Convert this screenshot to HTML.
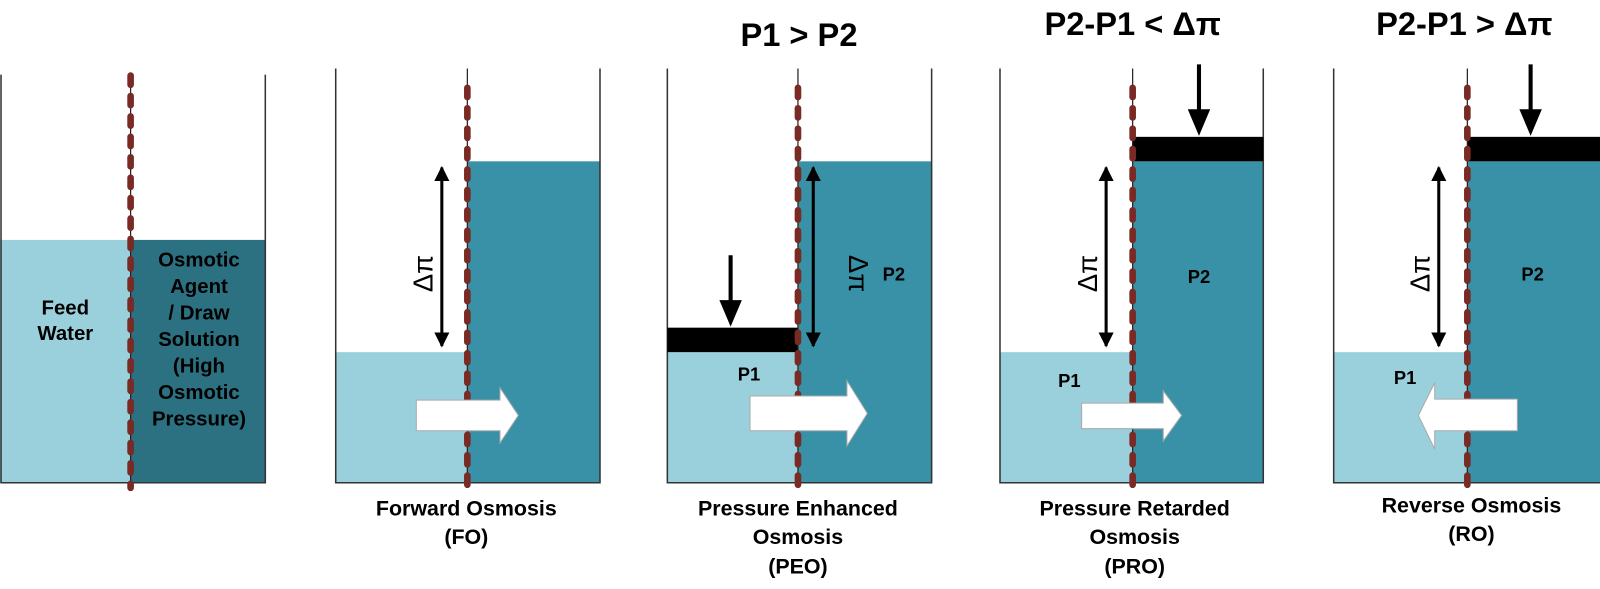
<!DOCTYPE html>
<html><head><meta charset="utf-8"><style>
html,body{margin:0;padding:0;background:#fff;}
svg{display:block;}
text{font-family:"Liberation Sans",Arial,sans-serif;font-weight:bold;fill:#000;}
</style></head><body>
<svg width="1600" height="589" viewBox="0 0 1568 577" xmlns="http://www.w3.org/2000/svg">
<defs>
<marker id="ah" viewBox="0 0 10 10" refX="9" refY="5" markerWidth="5" markerHeight="5" orient="auto-start-reverse"><path d="M0,0 L10,5 L0,10 z" fill="#000"/></marker>
</defs>
<!-- Panel 1 -->
<rect x="0" y="235" width="128" height="238" fill="#9ad0dc"/>
<rect x="128" y="235" width="132" height="238" fill="#2b7181"/>
<path d="M1,73 V473 H260 V73" fill="none" stroke="#333" stroke-width="1.5"/>
<!-- Panel 2 -->
<rect x="329" y="345" width="129" height="128" fill="#9ad0dc"/>
<rect x="458" y="158" width="130" height="315" fill="#3891a7"/>
<path d="M329,67 V473 H588 V67" fill="none" stroke="#333" stroke-width="1.5"/>
<!-- Panel 3 -->
<rect x="654" y="345" width="128" height="128" fill="#9ad0dc"/>
<rect x="782" y="158" width="131" height="315" fill="#3891a7"/>
<path d="M654,67 V473 H913 V67" fill="none" stroke="#333" stroke-width="1.5"/>
<rect x="654" y="321" width="128" height="24" fill="#000"/>
<!-- Panel 4 -->
<rect x="980" y="345" width="130" height="128" fill="#9ad0dc"/>
<rect x="1110" y="158" width="128" height="315" fill="#3891a7"/>
<path d="M980,67 V473 H1238 V67" fill="none" stroke="#333" stroke-width="1.5"/>
<rect x="1110" y="134" width="128" height="24" fill="#000"/>
<!-- Panel 5 -->
<rect x="1307" y="345" width="131" height="128" fill="#9ad0dc"/>
<rect x="1438" y="158" width="130" height="315" fill="#3891a7"/>
<path d="M1307,67 V473 H1568" fill="none" stroke="#333" stroke-width="1.5"/>
<rect x="1438" y="134" width="130" height="24" fill="#000"/>

<!-- membranes -->
<g stroke="#222" stroke-width="1.2">
<line x1="128" y1="73" x2="128" y2="478"/>
<line x1="458" y1="67" x2="458" y2="478"/>
<line x1="782" y1="67" x2="782" y2="478"/>
<line x1="1110" y1="67" x2="1110" y2="478"/>
<line x1="1438" y1="67" x2="1438" y2="478"/>
</g>
<g stroke="#7a2a25" stroke-width="6.5" stroke-linecap="round" stroke-dasharray="9 11" fill="none">
<line x1="128" y1="74" x2="128" y2="478"/>
<line x1="458" y1="86" x2="458" y2="478"/>
<line x1="782" y1="86" x2="782" y2="478"/>
<line x1="1110" y1="86" x2="1110" y2="478"/>
<line x1="1438" y1="86" x2="1438" y2="478"/>
</g>

<!-- delta pi arrows -->
<g stroke="#000" stroke-width="3" marker-start="url(#ah)" marker-end="url(#ah)">
<line x1="433" y1="164" x2="433" y2="339"/>
<line x1="797" y1="164" x2="797" y2="339"/>
<line x1="1084" y1="164" x2="1084" y2="339"/>
<line x1="1410" y1="164" x2="1410" y2="339"/>
</g>
<g>
<text x="0" y="0" transform="translate(424,268) rotate(-90)" text-anchor="middle" font-size="27" style="font-weight:normal">Δπ</text>
<text x="0" y="0" transform="translate(832,268) rotate(90)" text-anchor="middle" font-size="27" style="font-weight:normal">Δπ</text>
<text x="0" y="0" transform="translate(1075,268) rotate(-90)" text-anchor="middle" font-size="27" style="font-weight:normal">Δπ</text>
<text x="0" y="0" transform="translate(1401,268) rotate(-90)" text-anchor="middle" font-size="27" style="font-weight:normal">Δπ</text>
</g>

<!-- down arrows -->
<g stroke="#000" stroke-width="4">
<line x1="716" y1="250" x2="716" y2="296"/>
<line x1="1175" y1="63" x2="1175" y2="109"/>
<line x1="1500" y1="63" x2="1500" y2="109"/>
</g>
<g fill="#000">
<path d="M705,294 H727 L716,320 z"/>
<path d="M1164,107 H1186 L1175,133 z"/>
<path d="M1489,107 H1511 L1500,133 z"/>
</g>

<!-- white flow arrows -->
<g fill="#fff" stroke="#aaa" stroke-width="1">
<path d="M408,392 H490 V380 L508,407 L490,434 V422 H408 z"/>
<path d="M735,388 H830 V373 L850,405 L830,437 V422 H735 z"/>
<path d="M1060,395 H1140 V383 L1158,407 L1140,432 V420 H1060 z"/>
<path d="M1487,391 H1406 V375 L1390,407 L1406,440 V422 H1487 z"/>
</g>

<!-- labels -->
<g font-size="20" text-anchor="middle">
<text x="64" y="308">Feed</text>
<text x="64" y="333">Water</text>
<text x="195" y="261">Osmotic</text>
<text x="195" y="287">Agent</text>
<text x="195" y="313">/ Draw</text>
<text x="195" y="339">Solution</text>
<text x="195" y="365">(High</text>
<text x="195" y="391">Osmotic</text>
<text x="195" y="417">Pressure)</text>
</g>
<g font-size="18" text-anchor="middle">
<text x="734" y="373">P1</text>
<text x="876" y="275">P2</text>
<text x="1048" y="379">P1</text>
<text x="1175" y="277">P2</text>
<text x="1377" y="376">P1</text>
<text x="1502" y="275">P2</text>
</g>

<!-- titles -->
<g font-size="32" text-anchor="middle">
<text x="783" y="45">P1 &gt; P2</text>
<text x="1110" y="34">P2-P1 &lt; Δπ</text>
<text x="1435" y="34">P2-P1 &gt; Δπ</text>
</g>

<!-- captions -->
<g font-size="21" text-anchor="middle">
<text x="457" y="505">Forward Osmosis</text>
<text x="457" y="533">(FO)</text>
<text x="782" y="505">Pressure Enhanced</text>
<text x="782" y="533">Osmosis</text>
<text x="782" y="562">(PEO)</text>
<text x="1112" y="505">Pressure Retarded</text>
<text x="1112" y="533">Osmosis</text>
<text x="1112" y="562">(PRO)</text>
<text x="1442" y="502">Reverse Osmosis</text>
<text x="1442" y="530">(RO)</text>
</g>
</svg>
</body></html>
